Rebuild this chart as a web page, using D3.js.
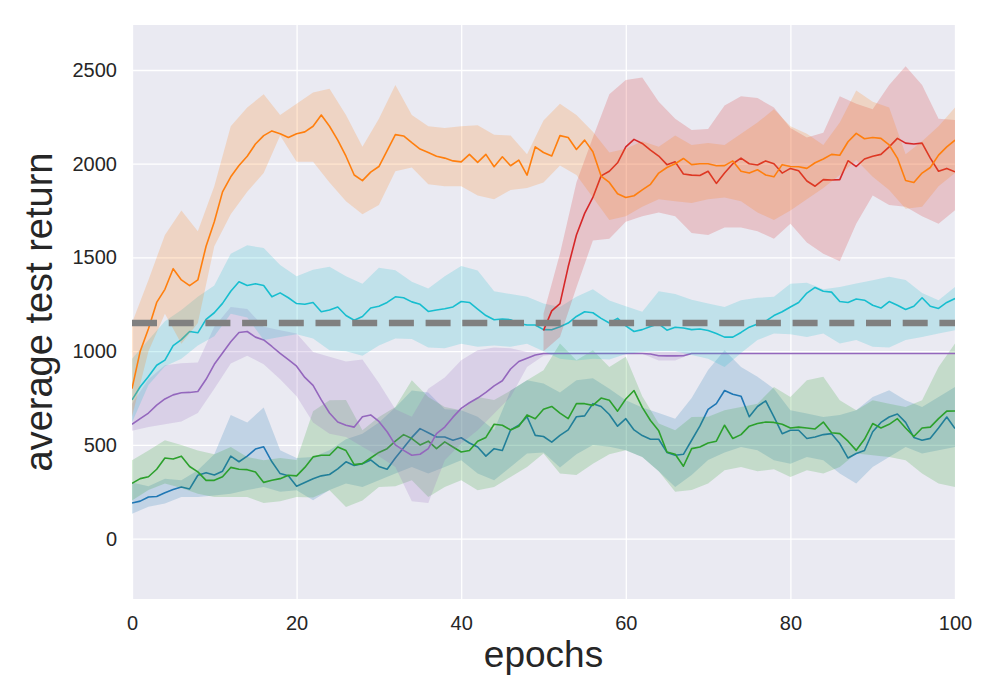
<!DOCTYPE html>
<html>
<head>
<meta charset="utf-8">
<script src="https://cdn.jsdelivr.net/npm/d3@7"></script>
<style>
    body { margin: 0; background: #ffffff; }
    text { font-family: "Liberation Sans", Arial, sans-serif; fill: #262626; }
</style>
</head>
<body>
<div id="chart-area"></div>
<script>
// x positions (epochs) for means and for the band edges
const epochs = d3.range(0, 101)
const bandEpochs = d3.range(0, 101, 2)
const redEpochs = d3.range(50, 101)
const redBandEpochs = d3.range(50, 101, 2)

const xTicks = [0, 20, 40, 60, 80, 100]
const yTicks = [0, 500, 1000, 1500, 2000, 2500]
const baselineValue = 1150

// orange
const orangeMean = [800,1000,1120,1260,1330,1440,1380,1350,1380,1560,
    1690,1850,1930,1990,2040,2105,2150,2175,2160,2140,
    2160,2170,2200,2260,2200,2126,2040,1940,1910,1955,
    1985,2070,2155,2148,2112,2078,2060,2040,2030,2015,
    2010,2050,2007,2050,1984,2037,1989,2019,1939,2090,
    2060,2041,2150,2140,2076,2126,2064,1934,1900,1840,
    1820,1829,1860,1890,1950,1980,2000,2028,1995,2000,
    2000,1989,1990,2015,1960,1950,1968,1940,1930,1995,
    1985,1984,1975,2005,2025,2050,2045,2117,2162,2133,
    2140,2135,2100,2030,1910,1900,1950,1980,2046,2090,2126]
const orangeUpper = [1150,1380,1620,1750,1640,1880,2200,2300,2370,2260,2320,
    2380,2400,2260,2090,2240,2420,2260,2200,2190,2200,
    2205,2155,2150,2050,2230,2320,2260,2170,2060,2080,
    2120,2090,2150,2100,2110,2100,2160,2220,2290,2200,
    2160,2100,2220,2390,2330,2300,2050,2120,2200,2300]
const orangeLower = [650,1000,1200,1040,1150,1560,1730,1850,1950,2150,2010,
    2010,1900,1800,1730,1780,1960,1980,1890,1880,1880,
    1830,1810,1860,1870,1900,1990,1940,1820,1700,1720,
    1770,1810,1800,1790,1810,1820,1800,1740,1700,1750,
    1810,1870,1940,2020,1930,1860,1760,1770,1880,1950]

// red (starts at epoch 50)
const redMean = [1110,1215,1254,1450,1620,1735,1820,1935,1960,2005,
    2090,2130,2108,2073,2041,1995,2010,1945,1939,1937,
    1960,1895,1950,2000,2030,2000,1993,2015,2000,1950,
    1975,1962,1908,1880,1915,1913,1915,2016,1985,2025,
    2040,2050,2090,2135,2110,2105,2110,2030,1960,1975,1957]
const redUpper = [1200,1520,1900,2140,2370,2446,2460,2330,2240,2180,2185,2310,2360,
    2350,2300,2190,2140,2165,2360,2320,2290,2420,2520,2420,2240,2233]
const redLower = [1000,1076,1340,1590,1600,1690,1720,1740,1720,1630,1620,1660,1660,
    1640,1600,1680,1580,1520,1480,1680,1830,1780,1770,1720,1680,1752]

// cyan
const cyanMean = [740,810,865,925,952,1030,1062,1105,1098,1170,
    1205,1255,1320,1370,1350,1360,1350,1290,1311,1285,
    1254,1250,1260,1210,1220,1236,1190,1165,1185,1230,
    1240,1260,1290,1285,1263,1250,1212,1220,1226,1236,
    1265,1260,1225,1190,1168,1172,1168,1148,1140,1140,
    1115,1114,1130,1150,1185,1210,1205,1175,1150,1175,
    1135,1105,1115,1132,1146,1112,1128,1124,1115,1118,
    1110,1094,1075,1075,1100,1128,1145,1160,1190,1210,
    1236,1260,1310,1340,1320,1315,1265,1260,1278,1272,
    1245,1230,1265,1245,1222,1240,1285,1240,1228,1260,1281]
const cyanUpper = [960,1060,1160,1220,1290,1350,1520,1565,1550,1460,1400,
    1435,1450,1400,1360,1445,1432,1370,1335,1400,1455,
    1430,1320,1305,1290,1255,1236,1290,1330,1270,1240,
    1210,1320,1305,1275,1255,1236,1272,1285,1290,1360,
    1365,1330,1343,1361,1379,1397,1380,1310,1272,1343]
const cyanLower = [620,820,920,960,1030,1080,1200,1180,1060,1076,1090,
    1068,1005,1000,975,1030,1068,1065,1020,1015,1040,
    1023,1030,1023,1040,1000,960,950,960,955,985,
    995,1000,1000,980,960,916,990,1060,1094,1090,
    1076,1094,1041,1059,1023,1020,1060,1076,1094,1112]

// purple
const purpleMean = [610,640,670,712,745,767,778,780,785,850,
    930,990,1050,1100,1105,1075,1060,1025,988,955,
    920,860,818,740,670,622,605,595,650,660,
    625,570,500,471,445,450,480,560,595,648,
    695,725,750,780,815,842,905,945,962,980,
    988,988,988,988,988,988,988,988,988,988,
    988,988,988,985,976,975,975,976,988,988,
    988,988,988,988,988,988,988,988,988,988,
    988,988,988,988,988,988,988,988,988,988,
    988,988,988,988,988,988,988,988,988,988,988]
const purpleUpper = [720,850,925,935,940,1130,1236,1225,1130,1112,1094,
    995,970,945,955,830,690,650,800,860,952,
    1005,1020,1015,995,990,990,990,990,990,990,
    990,995,995,990,990,990,990,990,990,990,
    990,990,990,990,990,990,990,990,990,990]
const purpleLower = [575,596,610,625,670,800,934,975,930,850,760,
    620,560,542,490,440,382,200,190,418,507,
    578,667,756,916,975,986,986,986,986,986,
    986,950,950,986,986,986,986,986,986,986,
    986,986,986,986,986,986,986,986,986,986]

// blue
const blueMean = [190,200,222,225,245,262,275,265,338,352,
    340,360,440,410,440,478,490,410,347,335,
    280,300,320,335,342,372,410,390,400,420,
    385,370,430,485,540,587,565,542,542,525,
    538,510,489,440,480,470,580,605,650,551,
    545,515,551,580,650,655,720,705,662,600,
    640,580,550,530,530,460,445,450,525,600,
    690,720,790,770,760,650,705,735,650,560,
    578,578,534,542,555,560,507,430,454,470,
    570,620,649,665,620,540,525,535,590,649,587]
const blueUpper = [300,280,320,311,365,450,660,620,700,471,430,
    436,471,530,560,620,700,790,780,690,685,
    650,580,790,845,827,780,845,855,800,738,
    700,670,640,750,900,1005,916,863,800,685,
    667,649,660,685,756,791,738,702,756,809]
const blueLower = [133,170,187,222,222,230,240,260,275,250,258,
    205,260,294,275,311,347,382,347,382,418,
    347,311,382,454,460,380,450,500,490,471,
    436,360,275,340,420,460,489,471,418,400,
    436,418,347,294,382,436,489,454,471,489]

// green
const greenMean = [295,320,330,370,430,425,440,385,356,311,
    311,330,380,370,368,356,300,311,320,338,
    335,380,436,445,445,489,470,395,400,430,
    460,480,520,555,534,500,520,480,516,489,
    462,470,520,540,610,605,580,600,660,640,
    690,705,670,640,720,720,711,750,738,680,
    745,790,700,630,575,462,450,386,480,489,
    510,520,605,534,555,600,614,622,620,610,
    590,595,590,585,622,565,560,520,471,530,
    614,590,610,640,590,545,590,595,640,680,681]
const greenUpper = [418,470,525,500,470,450,489,436,418,430,420,
    680,738,740,578,649,702,845,756,702,685,
    756,740,790,845,898,1041,952,1005,916,970,
    760,614,578,649,650,685,702,720,809,756,
    845,863,738,685,738,720,702,738,916,1041]
const greenLower = [204,260,294,270,240,222,222,222,190,200,222,
    220,258,169,204,275,280,311,222,275,311,
    258,275,329,382,454,347,340,400,450,471,
    436,360,250,260,294,365,382,360,370,329,
    365,347,382,454,445,436,418,347,294,275]

// series table built from the arrays above (draw order)
const seriesList = [
    { color: "#1f77b4", x: epochs, mean: blueMean, bx: bandEpochs, lo: blueLower, hi: blueUpper },
    { color: "#2ca02c", x: epochs, mean: greenMean, bx: bandEpochs, lo: greenLower, hi: greenUpper },
    { color: "#9467bd", x: epochs, mean: purpleMean, bx: bandEpochs, lo: purpleLower, hi: purpleUpper },
    { color: "#17becf", x: epochs, mean: cyanMean, bx: bandEpochs, lo: cyanLower, hi: cyanUpper },
    { color: "#d62728", x: redEpochs, mean: redMean, bx: redBandEpochs, lo: redLower, hi: redUpper },
    { color: "#ff7f0e", x: epochs, mean: orangeMean, bx: bandEpochs, lo: orangeLower, hi: orangeUpper }
]

const MARGIN = { LEFT: 132, RIGHT: 45, TOP: 25, BOTTOM: 101 }
const WIDTH = 1000 - MARGIN.LEFT - MARGIN.RIGHT
const HEIGHT = 700 - MARGIN.TOP - MARGIN.BOTTOM

const svg = d3.select("#chart-area").append("svg")
    .attr("width", 1000)
    .attr("height", 700)

const g = svg.append("g")
    .attr("transform", `translate(${MARGIN.LEFT}, ${MARGIN.TOP})`)

// scales
const x = d3.scaleLinear().domain([0, 100]).range([0, WIDTH])
const y = d3.scaleLinear().domain([-322, 2740]).range([HEIGHT, 0])

// background
g.append("rect")
    .attr("width", WIDTH)
    .attr("height", HEIGHT)
    .attr("fill", "#eaeaf2")

g.append("clipPath").attr("id", "plot-clip")
    .append("rect")
    .attr("width", WIDTH)
    .attr("height", HEIGHT)

// grid
const xAxisCall = d3.axisBottom(x).tickValues(xTicks).tickSize(-HEIGHT).tickPadding(12)
    .tickFormat(d3.format("d"))
const yAxisCall = d3.axisLeft(y).tickValues(yTicks).tickSize(-WIDTH).tickPadding(15)
    .tickFormat(d3.format("d"))

const xAxis = g.append("g")
    .attr("class", "x axis")
    .attr("transform", `translate(0, ${HEIGHT})`)
    .call(xAxisCall)
const yAxis = g.append("g")
    .attr("class", "y axis")
    .call(yAxisCall)

for (const ax of [xAxis, yAxis]) {
    ax.select(".domain").remove()
    ax.selectAll(".tick line")
        .attr("stroke", "#ffffff")
        .attr("stroke-width", 1.3)
    ax.selectAll(".tick text")
        .attr("font-size", "20px")
        .attr("fill", "#262626")
}
xAxis.selectAll(".tick text").attr("dy", "0.95em")

const plot = g.append("g").attr("clip-path", "url(#plot-clip)")

// bands and mean lines
seriesList.forEach(s => {
    const area = d3.area()
        .x((d, i) => x(s.bx[i]))
        .y0((d, i) => y(s.lo[i]))
        .y1((d, i) => y(s.hi[i]))
    plot.append("path")
        .attr("d", area(s.lo))
        .attr("fill", s.color)
        .attr("fill-opacity", 0.2)

    const line = d3.line()
        .x((d, i) => x(s.x[i]))
        .y(d => y(d))
    plot.append("path")
        .attr("d", line(s.mean))
        .attr("fill", "none")
        .attr("stroke", s.color)
        .attr("stroke-width", 1.6)
        .attr("stroke-linejoin", "round")
})

// reference dashed line
plot.append("line")
    .attr("x1", x(0))
    .attr("x2", x(100))
    .attr("y1", y(baselineValue))
    .attr("y2", y(baselineValue))
    .attr("stroke", "#808080")
    .attr("stroke-width", 6.5)
    .attr("stroke-dasharray", "25,11.7")

// axis labels
g.append("text")
    .attr("x", WIDTH / 2)
    .attr("y", HEIGHT + 68)
    .attr("font-size", "37px")
    .attr("text-anchor", "middle")
    .text("epochs")
g.append("text")
    .attr("transform", "rotate(-90)")
    .attr("x", -HEIGHT / 2)
    .attr("y", 52 - MARGIN.LEFT)
    .attr("font-size", "38px")
    .attr("text-anchor", "middle")
    .text("average test return")
</script>
</body>
</html>
